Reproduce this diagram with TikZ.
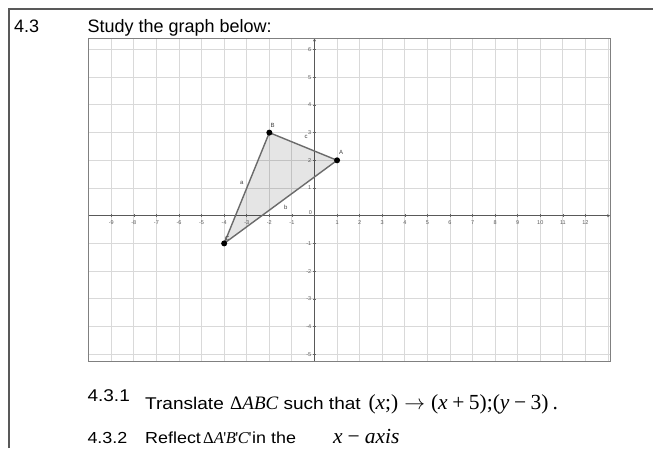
\documentclass[tikz,border=0pt]{standalone}
\usepackage{fontspec}
\setmainfont{Liberation Sans}
\newfontfamily\tnr{Liberation Serif}
\newfontfamily\itemfont[FakeStretch=1.12]{Liberation Sans}
\usetikzlibrary{arrows.meta}
\begin{document}
\begin{tikzpicture}[x=1pt,y=-1pt,
  gridline/.style={draw=black!15, line width=0.9pt},
  axisline/.style={draw=black!65, line width=1.2pt},
  ticklab/.style={font=\fontsize{5.5}{5.5}\selectfont, text=black!65, inner sep=0pt},
  edgeline/.style={draw=black!58, line width=1.4pt},
  dot/.style={circle, fill=black, inner sep=0pt, minimum size=6pt},
  ptlab/.style={font=\fontsize{6}{6}\selectfont, text=black!75, inner sep=0pt},
  body/.style={inner sep=0pt, anchor=base west},
  titlefont/.style={font=\fontsize{18}{18}\selectfont},
  itemtext/.style={font=\itemfont\fontsize{17}{17}\selectfont},
  itemtextb/.style={font=\itemfont\fontsize{16}{16}\selectfont},
  mathtext/.style={font=\tnr\fontsize{19}{19}\selectfont},
  mathtextb/.style={font=\tnr\fontsize{16.5}{16.5}\selectfont},
  mathtextc/.style={font=\tnr\fontsize{21.5}{21.5}\selectfont},
  bigmath/.style={font=\tnr\fontsize{21.5}{21.5}\selectfont}]
\useasboundingbox (0,0) rectangle (653,448);
\fill[white] (0,0) rectangle (653,448);
% frame
\draw[draw=black!65, line width=2pt] (9,448) -- (9,9) -- (653,9);
% heading
\node[body, titlefont] (num) at (14,32.3) {4.3};
\node[body, titlefont] (title) at (87.3,32.3) {Study the graph below:};
% graph
\begin{scope}[shift={(314.5,215.7)}, x=22.58pt, y=27.7pt]
  \foreach \i in {-9,...,13} \draw[gridline] (\i,-5.27) -- (\i,6.4);
  \foreach \j in {-5,...,6} \draw[gridline] (-10.02,\j) -- (13.09,\j);
  \draw[axisline, -{Stealth[length=3pt,width=3pt]}] (-10.02,0) -- (13.09,0);
  \draw[axisline, -{Stealth[length=3pt,width=3pt]}] (0,-5.27) -- (0,6.4);
  \foreach \i in {-9,...,-1,1,2,...,12}
    \draw[draw=black!60, line width=0.6pt] (\i,0) ++(0pt,1.5pt) -- ++(0pt,-3pt);
  \foreach \j in {-5,...,-1,1,2,...,6}
    \draw[draw=black!60, line width=0.6pt] (0,\j) ++(-1.5pt,0pt) -- ++(3pt,0pt);
  \draw[draw=black!50, line width=1pt] (-10.02,-5.27) rectangle (13.09,6.4);
  \foreach \i in {-9,...,-1,1,2,...,12}
    \node[ticklab] (xl\i) at ([yshift=-6.5pt]\i,0) {\i};
  \foreach \j in {-5,...,-1,1,2,...,6}
    \node[ticklab, anchor=east] (yl\j) at ([xshift=-3pt]0,\j) {\j};
  \node[ticklab] (yl0) at ([xshift=-4pt,yshift=3.5pt]0,0) {0};
  \coordinate (A) at (1,2);
  \coordinate (B) at (-2,3);
  \coordinate (C) at (-4,-1);
  \fill[black, fill opacity=0.1] (A) -- (B) -- (C) -- cycle;
  \draw[edgeline] (A) -- (B) -- (C) -- cycle;
  \node[dot] (Ad) at (A) {};
  \node[dot] (Bd) at (B) {};
  \node[dot] (Cd) at (C) {};
\end{scope}
\node[ptlab] (Alab) at (341,152.7) {A};
\node[ptlab] (Blab) at (272.7,125) {B};
\node[ptlab] (Clab) at (227.3,238) {C};
\node[ptlab] (alab) at (241.7,182.7) {a};
\node[ptlab] (blab) at (285.7,207.3) {b};
\node[ptlab] (clab) at (306,136.7) {c};
% item 4.3.1
\node[body, itemtext] (n1) at (87.3,401.7) {4.3.1};
\node[body, itemtext] (t1) at (145,409.3) {Translate};
\node[body, mathtext] (m1) at (230,409.3) {Δ\textit{ABC}};
\node[body, itemtext] (t2) at (283.3,409.3) {such that};
\node[body, bigmath] (m2) at (368.3,409.3) {(\textit{x};)\kern6pt$\rightarrow$\kern6pt(\textit{x}\kern4.5pt+\kern4.5pt5);(\textit{y}\kern4.5pt−\kern4.5pt3)\kern4pt.};
% item 4.3.2
\node[body, itemtextb] (n2) at (87.3,443.3) {4.3.2};
\node[body, itemtextb] (t3) at (145,443.3) {Reflect};
\node[body, mathtextb] (m3) at (203,443.3) {Δ\textit{A}\kern-0.5pt\char"0027\kern-0.5pt\textit{B}\kern-0.5pt\char"0027\kern-0.5pt\textit{C}\kern-0.5pt\char"0027};
\node[body, itemtextb] (t4) at (252,443.3) {in the};
\node[body, mathtextc] (m4) at (333,443.3) {\textit{x}\kern5pt−\kern5pt\textit{axis}};
\end{tikzpicture}
\end{document}
